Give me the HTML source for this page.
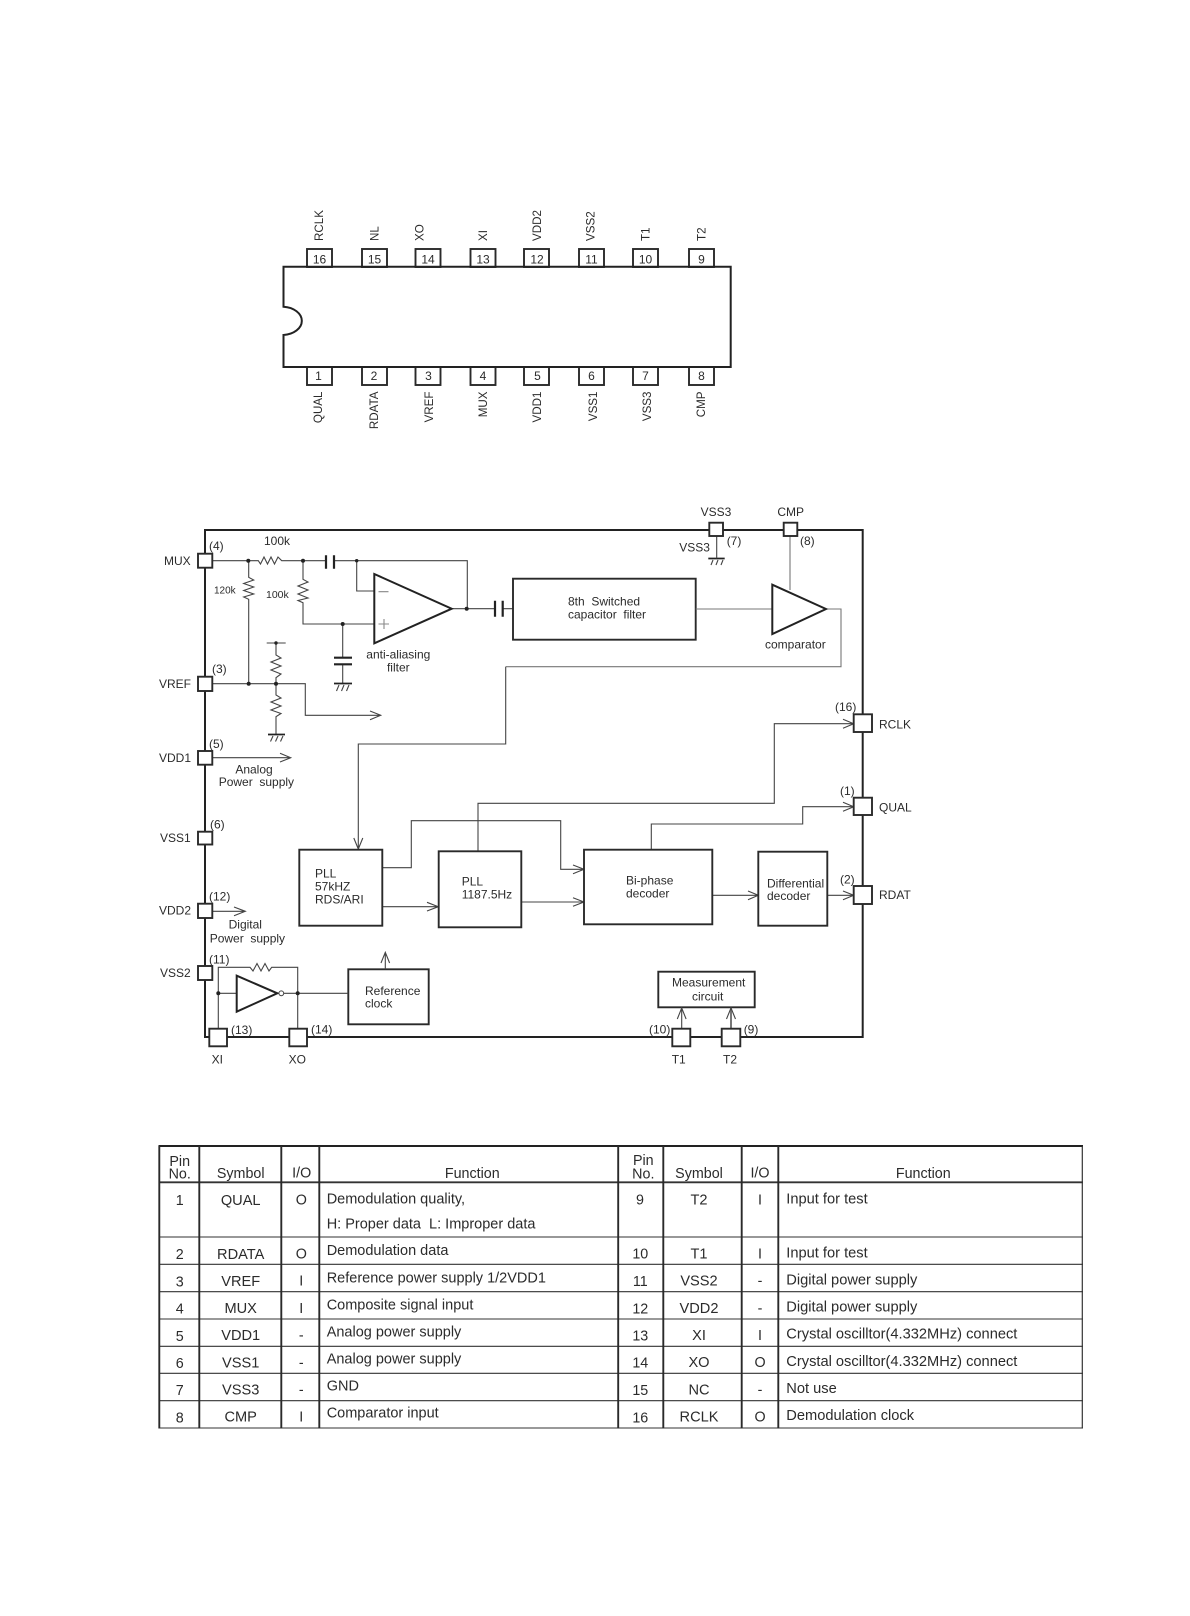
<!DOCTYPE html>
<html><head><meta charset="utf-8">
<style>
html,body{margin:0;padding:0;background:#fff}
svg{display:block;filter:blur(0.3px)}
text{font-family:"Liberation Sans",sans-serif;font-size:12px;fill:#2b2b2b;white-space:pre}
.m{text-anchor:middle}
.r{font-size:11.6px}
.n{font-size:12px;text-anchor:middle}
.t text{font-size:14.3px}
.t text.f1{font-size:14.5px}
.t text.f2{font-size:14.65px}
.t text.s{font-size:14.6px}
.k{fill:none;stroke:#222;stroke-width:2}
.b{fill:#fff;stroke:#2a2a2a;stroke-width:1.9}
.l{fill:none;stroke:#444;stroke-width:1.1}
.g{fill:none;stroke:#777;stroke-width:1.1}
.v{stroke:#2a2a2a;stroke-width:1.9}
.h{stroke:#333;stroke-width:1.1}
.d{fill:#222}
</style></head><body>
<svg width="1190" height="1616" viewBox="0 0 1190 1616" xmlns="http://www.w3.org/2000/svg">
<rect width="1190" height="1616" fill="#fff"/>

<!-- Chip package -->
<g class="b">
<rect x="307" y="249" width="25" height="18"/><rect x="362" y="249" width="25" height="18"/><rect x="415.500" y="249" width="25" height="18"/><rect x="470.500" y="249" width="25" height="18"/><rect x="524" y="249" width="25" height="18"/><rect x="579" y="249" width="25" height="18"/><rect x="633" y="249" width="25" height="18"/><rect x="689" y="249" width="25" height="18"/>
<rect x="307" y="367" width="25" height="18"/><rect x="362" y="367" width="25" height="18"/><rect x="415.500" y="367" width="25" height="18"/><rect x="470.500" y="367" width="25" height="18"/><rect x="524" y="367" width="25" height="18"/><rect x="579" y="367" width="25" height="18"/><rect x="633" y="367" width="25" height="18"/><rect x="689" y="367" width="25" height="18"/>
</g>
<path class="k" d="M283.500 306.700V266.700H730.700V367H283.500V335A20 14.200 0 0 0 283.500 306.700Z" fill="#fff"/>
<text class="n" x="319.500" y="263.500">16</text><text class="n" x="374.500" y="263.500">15</text><text class="n" x="428" y="263.500">14</text><text class="n" x="483" y="263.500">13</text><text class="n" x="537" y="263.500">12</text><text class="n" x="591.500" y="263.500">11</text><text class="n" x="645.500" y="263.500">10</text><text class="n" x="701.500" y="263.500">9</text>
<text class="n" x="318.500" y="380">1</text><text class="n" x="374" y="380">2</text><text class="n" x="428.500" y="380">3</text><text class="n" x="483" y="380">4</text><text class="n" x="537.500" y="380">5</text><text class="n" x="591.500" y="380">6</text><text class="n" x="645.500" y="380">7</text><text class="n" x="701.500" y="380">8</text>
<g class="r">
<text class="r" transform="translate(323 241) rotate(-90)">RCLK</text>
<text class="r" transform="translate(378.500 241) rotate(-90)">NL</text>
<text class="r" transform="translate(423.500 241) rotate(-90)">XO</text>
<text class="r" transform="translate(487 241) rotate(-90)">XI</text>
<text class="r" transform="translate(541 241) rotate(-90)">VDD2</text>
<text class="r" transform="translate(594.500 241) rotate(-90)">VSS2</text>
<text class="r" transform="translate(649.500 241) rotate(-90)">T1</text>
<text class="r" transform="translate(705.500 241) rotate(-90)">T2</text>
<text class="r" text-anchor="end" transform="translate(322 391.500) rotate(-90)">QUAL</text>
<text class="r" text-anchor="end" transform="translate(378 391.500) rotate(-90)">RDATA</text>
<text class="r" text-anchor="end" transform="translate(433 391.500) rotate(-90)">VREF</text>
<text class="r" text-anchor="end" transform="translate(487 391.500) rotate(-90)">MUX</text>
<text class="r" text-anchor="end" transform="translate(541 391.500) rotate(-90)">VDD1</text>
<text class="r" text-anchor="end" transform="translate(597 391.500) rotate(-90)">VSS1</text>
<text class="r" text-anchor="end" transform="translate(651 391.500) rotate(-90)">VSS3</text>
<text class="r" text-anchor="end" transform="translate(705 391.500) rotate(-90)">CMP</text>
</g>

<!-- Block diagram frame -->
<rect class="k" x="205" y="530" width="657.700" height="507"/>

<!-- Analog input network -->
<g class="l">
<path d="M212 560.700H258.300L260.500 564 264 557 267.500 564 271 557 274.500 564 278 557 281.700 560.700H326M334 560.700H467.300V608.700"/>
<path d="M356.700 560.700V591H374"/>
<path d="M248.700 560.700V577.300L253.700 580 243.700 583.500 253.700 587 243.700 590.500 253.700 594 243.700 597 248.700 599.300V683.700"/>
<path d="M303 560.700V579.300L308 582 298 586 308 590 298 594 308 598 298 600.500 303 602.700V624H374"/>
<path d="M342.700 624V657.700M342.700 664.300V683.300"/>
<path d="M212 683.700H305.300V715.300H380.700M370 711 380.700 715.300 370 719.700"/>
<path d="M266.700 643H285.700M276 643V655L281 658 271 662 281 666 271 670 281 674 276 677.700V695L281 698 271 702 281 706 271 710 281 713.500 276 716.700V734.300"/>
<path d="M212 757.700H290.700M280 753.300 290.700 757.700 280 762"/>
<path d="M451.700 608.700H495M502.700 608.700H513"/>
</g>
<path d="M378.500 591.700H388.500M384 619V629M378.500 624H389" fill="none" stroke="#888" stroke-width="1.100"/>
<g class="d"><circle cx="248.300" cy="560.700" r="2"/><circle cx="303" cy="560.700" r="2"/><circle cx="356.700" cy="560.700" r="1.700"/><circle cx="342.700" cy="624" r="2"/><circle cx="248.700" cy="683.700" r="2"/><circle cx="276" cy="683.700" r="2"/><circle cx="276" cy="643" r="1.700"/><circle cx="466.700" cy="608.700" r="2"/></g>
<g stroke="#222" stroke-width="2.200" fill="none">
<path d="M326 555.300V568.700M334 555.300V568.700M495 600.700V616.700M502.700 600.700V616.700"/>
<path d="M334 657.700H352M334 664.300H352"/>
<path d="M334 683.500H352M268 734.500H285M708.300 558.500H724.700" stroke-width="1.800"/>
</g>
<path class="l" stroke-width="0.900" d="M339 685 336.500 691M344 685 341.500 691M349 685 346.500 691M273 736 270.500 741.500M278 736 275.500 741.500M283 736 280.500 741.500M713 560 711 565M718 560 716 565M723 560 721 565"/>
<path class="k" d="M374.300 574 451.700 608.700 374.300 643.300Z"/>

<!-- Switched capacitor + comparator -->
<rect class="b" x="513" y="578.700" width="182.700" height="61"/>
<path class="l" d="M716.700 536V558.300"/>
<path class="g" d="M695.700 609H772.300M790 536V590M826 609H841V666.700H505.700"/>
<path class="l" d="M505.700 666.700V744H358.300V849M353.800 838 358.300 849 362.800 838"/>
<path class="k" d="M772.300 584.700 826 609 772.300 634Z"/>

<!-- Output routing -->
<path class="l" d="M478 851.300V803.300H774.300V723.700H853.700M843 719.200 853.700 723.700 843 728.200"/>
<path class="l" d="M651.300 849.700V824H802.700V806.700H853.700M843 802.200 853.700 806.700 843 811.200"/>
<path class="l" d="M712.300 895.300H758.300M748 891 758.300 895.300 748 899.700M827.300 895.300H853.700M843 891 853.700 895.300 843 899.700"/>
<path class="l" d="M382.300 867.700H411.300V820.700H560.700V869.300H584M573 865 584 869.300 573 873.700"/>
<path class="l" d="M521.300 902H584M573 897.700 584 902 573 906.300"/>
<path class="l" d="M382.300 906.700H438.300M427 902.300 438.300 906.700 427 911"/>
<path class="l" d="M212.700 911.300H245.300M234 907 245.300 911.300 234 915.700"/>

<!-- Blocks -->
<rect class="b" x="299.300" y="849.700" width="83" height="76"/>
<rect class="b" x="438.700" y="851.300" width="82.600" height="76"/>
<rect class="b" x="584" y="849.700" width="128.300" height="74.600"/>
<rect class="b" x="758.300" y="851.700" width="69" height="74"/>
<rect class="b" x="348.300" y="969.300" width="80.400" height="55"/>
<rect class="b" x="658.300" y="971.700" width="96.400" height="35.600"/>

<!-- Oscillator -->
<path class="l" d="M218.300 1028.700V967.300H250L253 971 257 963.500 261 971 265 963.500 269 971 271.700 967.300H297.700V1028.700"/>
<path class="l" d="M218.300 993.300H236.700M283.800 993.300H348.300M385.300 969.300V952.800M381 963 385.300 952.300 389.600 963"/>
<path class="k" d="M236.700 975.700 277.300 993.300 236.700 1011.700Z"/>
<circle cx="281.300" cy="993.300" r="2.400" fill="#fff" stroke="#444"/>
<circle class="d" cx="218.300" cy="993.300" r="2"/><circle class="d" cx="297.700" cy="993.300" r="2"/>

<!-- Measurement arrows -->
<path class="l" d="M681.700 1028.700V1008M677.300 1019 681.700 1008 686.100 1019"/>
<path d="M731 1028.700V1008" fill="none" stroke="#777" stroke-width="2"/>
<path class="l" d="M726.500 1019 731 1008 735.500 1019"/>

<!-- Pins -->
<g class="b">
<rect x="198" y="553.700" width="14.300" height="14"/>
<rect x="198" y="676.700" width="14.300" height="14.300"/>
<rect x="198" y="751" width="14.300" height="13.700"/>
<rect x="198" y="831.700" width="14.300" height="12.800"/>
<rect x="198" y="903.700" width="14.300" height="14.300"/>
<rect x="198" y="966" width="14.300" height="14"/>
<rect x="709.300" y="522.700" width="13.700" height="13.300"/>
<rect x="783.700" y="522.700" width="13.600" height="13.300"/>
<rect x="853.700" y="714.300" width="18.300" height="17.700"/>
<rect x="853.700" y="797.700" width="18.300" height="17.300"/>
<rect x="853.700" y="886" width="18.300" height="18"/>
<rect x="209.300" y="1028.700" width="17.700" height="17.600"/>
<rect x="289.300" y="1028.700" width="17.700" height="17.600"/>
<rect x="672.300" y="1028.700" width="18" height="17.600"/>
<rect x="721.700" y="1028.700" width="18.600" height="17.600"/>
</g>

<!-- Diagram labels -->
<text x="164" y="565">MUX</text><text x="159" y="688">VREF</text><text x="159" y="762">VDD1</text><text x="160" y="842">VSS1</text><text x="159" y="914.500">VDD2</text><text x="160" y="977">VSS2</text>
<text x="209" y="550">(4)</text><text x="212" y="673">(3)</text><text x="209" y="748">(5)</text><text x="210" y="828.500">(6)</text><text x="209" y="900.700">(12)</text><text x="209" y="963.300">(11)</text>
<text x="264" y="545">100k</text><text x="214" y="593.300" style="font-size:10px">120k</text><text x="266" y="598" style="font-size:10.500px">100k</text>
<text class="m" x="398.300" y="658.300">anti-aliasing</text><text class="m" x="398.300" y="671.700">filter</text>
<text class="m" x="254" y="773.300">Analog</text><text x="218.700" y="786">Power  supply</text>
<text class="m" x="245.300" y="928.700">Digital</text><text x="209.700" y="942.300">Power  supply</text>
<text class="m" x="716" y="516">VSS3</text><text class="m" x="790.700" y="516">CMP</text><text x="679.300" y="551.700">VSS3</text><text x="726.700" y="545">(7)</text><text x="800" y="545">(8)</text>
<text x="568" y="605.300">8th  Switched</text><text x="568" y="618.300">capacitor  filter</text><text x="765" y="648.300">comparator</text>
<text x="835" y="711">(16)</text><text x="879" y="728.300">RCLK</text><text x="840" y="795">(1)</text><text x="879" y="811.700">QUAL</text><text x="840" y="883.300">(2)</text><text x="879" y="899">RDAT</text>
<text x="315" y="877.300">PLL</text><text x="315" y="890.700">57kHZ</text><text x="315" y="903.300">RDS/ARI</text>
<text x="461.700" y="885.700">PLL</text><text x="461.700" y="898.300">1187.5Hz</text>
<text x="626" y="884.500">Bi-phase</text><text x="626" y="897.300">decoder</text>
<text x="767" y="887.300">Differential</text><text x="767" y="900">decoder</text>
<text x="365" y="995">Reference</text><text x="365" y="1007.700">clock</text>
<text class="m" x="708.700" y="986.700">Measurement</text><text class="m" x="707.700" y="1000.700">circuit</text>
<text x="231" y="1034">(13)</text><text x="311" y="1033.300">(14)</text><text x="649" y="1033.300">(10)</text><text x="743.700" y="1033.300">(9)</text>
<text class="m" x="217.300" y="1063.300">XI</text><text class="m" x="297.300" y="1063.300">XO</text><text class="m" x="678.700" y="1063.300">T1</text><text class="m" x="730" y="1063.300">T2</text>

<!-- Table -->
<g>
<path d="M158.500 1146H1083" stroke="#222" stroke-width="2"/>
<path d="M158.500 1182.300H1083" stroke="#333" stroke-width="1.900"/>
<path d="M158.500 1237H1083" stroke="#777" stroke-width="1.600"/>
<path class="h" d="M158.500 1264.300H1083M158.500 1291.700H1083M158.500 1319H1083M158.500 1346.300H1083M158.500 1373.300H1083M158.500 1400.700H1083M158.500 1428H1083"/>
<path class="v" d="M159.300 1146V1428.500M199.300 1146V1428.500M281.300 1146V1428.500M319.300 1146V1428.500M618.200 1146V1428.500M663.300 1146V1428.500M741.700 1146V1428.500M778.300 1146V1428.500"/>
<path d="M1082.300 1146V1428.500" stroke="#333" stroke-width="1.200"/>
</g>
<g class="t">
<!-- Left header -->
<text class="m" x="179.700" y="1166">Pin</text><text class="m" x="179.700" y="1178.300">No.</text><text class="m" x="240.700" y="1178">Symbol</text><text class="m" x="301.700" y="1177.300">I/O</text><text class="m" x="472.300" y="1178">Function</text>
<!-- Left rows -->
<text class="m" x="179.700" y="1205">1</text><text class="m s" x="240.700" y="1205">QUAL</text><text class="m" x="301.300" y="1204.300">O</text><text class="f1" x="326.700" y="1203.300">Demodulation quality,</text><text class="f1" x="326.700" y="1228.300">H: Proper data  L: Improper data</text>
<text class="m" x="179.700" y="1259">2</text><text class="m s" x="240.700" y="1259">RDATA</text><text class="m" x="301.300" y="1258.300">O</text><text class="f1" x="326.700" y="1255">Demodulation data</text>
<text class="m" x="179.700" y="1286.300">3</text><text class="m s" x="240.700" y="1286">VREF</text><text class="m" x="301.300" y="1285.700">I</text><text class="f1" x="326.700" y="1282.300">Reference power supply 1/2VDD1</text>
<text class="m" x="179.700" y="1313.500">4</text><text class="m s" x="240.700" y="1313">MUX</text><text class="m" x="301.300" y="1313">I</text><text class="f1" x="326.700" y="1309.300">Composite signal input</text>
<text class="m" x="179.700" y="1341">5</text><text class="m s" x="240.700" y="1340">VDD1</text><text class="m" x="301.300" y="1340">-</text><text class="f1" x="326.700" y="1336.700">Analog power supply</text>
<text class="m" x="179.700" y="1368">6</text><text class="m s" x="240.700" y="1367.300">VSS1</text><text class="m" x="301.300" y="1367.300">-</text><text class="f1" x="326.700" y="1363.700">Analog power supply</text>
<text class="m" x="179.700" y="1395">7</text><text class="m s" x="240.700" y="1394.300">VSS3</text><text class="m" x="301.300" y="1394.300">-</text><text class="f1" x="326.700" y="1390.700">GND</text>
<text class="m" x="179.700" y="1422.300">8</text><text class="m s" x="240.700" y="1421.500">CMP</text><text class="m" x="301.300" y="1421.500">I</text><text class="f1" x="326.700" y="1417.700">Comparator input</text>
<!-- Right header -->
<text class="m" x="643.300" y="1165">Pin</text><text class="m" x="643.300" y="1178.300">No.</text><text class="m" x="699" y="1178">Symbol</text><text class="m" x="760" y="1177.300">I/O</text><text class="m" x="923.300" y="1178">Function</text>
<!-- Right rows -->
<text class="m" x="640" y="1204.300">9</text><text class="m s" x="699" y="1204.300">T2</text><text class="m" x="760" y="1204.300">I</text><text class="f2" x="786.300" y="1203.300">Input for test</text>
<text class="m" x="640.300" y="1258.700">10</text><text class="m s" x="699" y="1258.300">T1</text><text class="m" x="760" y="1258.300">I</text><text class="f2" x="786.300" y="1257.300">Input for test</text>
<text class="m" x="640.300" y="1286">11</text><text class="m s" x="699" y="1285.500">VSS2</text><text class="m" x="760" y="1285.500">-</text><text class="f2" x="786.300" y="1284.300">Digital power supply</text>
<text class="m" x="640.300" y="1313.300">12</text><text class="m s" x="699" y="1312.800">VDD2</text><text class="m" x="760" y="1312.800">-</text><text class="f2" x="786.300" y="1311.700">Digital power supply</text>
<text class="m" x="640.300" y="1340.700">13</text><text class="m s" x="699" y="1340">XI</text><text class="m" x="760" y="1340">I</text><text class="f2" x="786.300" y="1338.700">Crystal oscilltor(4.332MHz) connect</text>
<text class="m" x="640.300" y="1367.700">14</text><text class="m s" x="699" y="1367">XO</text><text class="m" x="760" y="1367">O</text><text class="f2" x="786.300" y="1366">Crystal oscilltor(4.332MHz) connect</text>
<text class="m" x="640.300" y="1395">15</text><text class="m s" x="699" y="1394.300">NC</text><text class="m" x="760" y="1394.300">-</text><text class="f2" x="786.300" y="1393">Not use</text>
<text class="m" x="640.300" y="1422.300">16</text><text class="m s" x="699" y="1421.500">RCLK</text><text class="m" x="760" y="1421.500">O</text><text class="f2" x="786.300" y="1420">Demodulation clock</text>
</g>
</svg>
</body></html>
